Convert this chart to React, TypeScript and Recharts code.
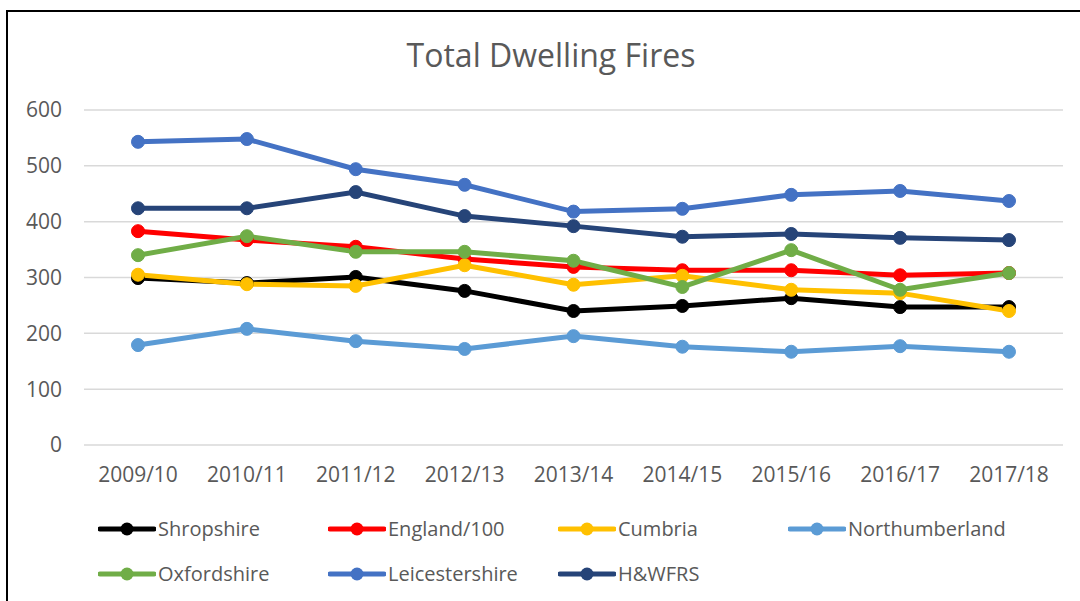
import React from 'react';
import { CartesianGrid, Line, LineChart, XAxis, YAxis } from 'recharts';

const years = ['2009/10', '2010/11', '2011/12', '2012/13', '2013/14', '2014/15', '2015/16', '2016/17', '2017/18'];

const shropshire = [299, 290, 301, 276, 240, 249, 263, 247, 247];
const england = [383, 367, 355, 333, 319, 313, 313, 304, 308];
const cumbria = [305, 288, 285, 322, 287, 303, 278, 272, 240];
const northumberland = [179, 208, 186, 172, 195, 176, 167, 177, 167];
const oxfordshire = [340, 374, 346, 346, 330, 283, 349, 278, 308];
const leicestershire = [543, 548, 494, 466, 418, 423, 448, 455, 437];
const hwfrs = [424, 424, 453, 410, 392, 373, 378, 371, 367];

const yTicks = [0, 100, 200, 300, 400, 500, 600];

const series = [
  { key: 'shropshire', name: 'Shropshire', color: '#000000', values: shropshire },
  { key: 'england', name: 'England/100', color: '#FF0000', values: england },
  { key: 'cumbria', name: 'Cumbria', color: '#FFC000', values: cumbria },
  { key: 'northumberland', name: 'Northumberland', color: '#5B9BD5', values: northumberland },
  { key: 'oxfordshire', name: 'Oxfordshire', color: '#70AD47', values: oxfordshire },
  { key: 'leicestershire', name: 'Leicestershire', color: '#4472C4', values: leicestershire },
  { key: 'hwfrs', name: 'H&WFRS', color: '#264478', values: hwfrs },
];

const data = years.map((year, i) => {
  const row: Record<string, string | number> = { year };
  series.forEach((s) => {
    row[s.key] = s.values[i];
  });
  return row;
});

const font = '"Open Sans", "Noto Sans", sans-serif';
const grey = '#595959';

function LegendItem({ name, color }: { name: string; color: string }) {
  return (
    <div style={{ display: 'flex', alignItems: 'center', width: 230 }}>
      <svg width={58} height={16} style={{ marginRight: 2 }}>
        <line x1={2} y1={8} x2={56} y2={8} stroke={color} strokeWidth={5} strokeLinecap="round" />
        <circle cx={29} cy={8} r={6.5} fill={color} />
      </svg>
      <span style={{ fontSize: 20, color: grey, fontFamily: font }}>{name}</span>
    </div>
  );
}

export default function App() {
  return (
    <div style={{ position: 'fixed', left: 0, top: 0, width: 1080, height: 601, background: '#fff', overflow: 'hidden' }}>
      <div
        style={{
          position: 'absolute',
          left: 6,
          top: 10,
          width: 1100,
          height: 620,
          borderTop: '2px solid #000',
          borderLeft: '2px solid #000',
        }}
      />
      <div
        style={{
          position: 'absolute',
          top: 33,
          left: 0,
          width: 1102,
          textAlign: 'center',
          fontFamily: font,
          fontSize: 32,
          color: grey,
          lineHeight: '44px',
        }}
      >
        Total Dwelling Fires
      </div>
      <div style={{ position: 'absolute', left: 0, top: 0 }}>
        <LineChart width={1080} height={601} data={data} margin={{ top: 110, right: 17, left: 0, bottom: 126 }}>
          <CartesianGrid vertical={false} stroke="#D9D9D9" strokeWidth={1.5} />
          <XAxis
            dataKey="year"
            axisLine={false}
            tickLine={false}
            tickSize={0}
            tickMargin={22}
            height={30}
            interval={0}
            padding={{ left: 54, right: 54 }}
            tick={{ fontSize: 21, fill: grey, fontFamily: font }}
          />
          <YAxis
            domain={[0, 600]}
            ticks={yTicks}
            axisLine={false}
            tickLine={false}
            tickSize={0}
            tickMargin={22}
            width={84}
            tick={{ fontSize: 21, fill: grey, fontFamily: font }}
          />
          {series.map((s) => (
            <Line
              key={s.key}
              dataKey={s.key}
              name={s.name}
              type="linear"
              stroke={s.color}
              strokeWidth={5}
              dot={{ r: 6.5, fill: s.color, stroke: s.color, strokeWidth: 1 }}
              isAnimationActive={false}
            />
          ))}
        </LineChart>
      </div>
      <div style={{ position: 'absolute', left: 98, top: 515, display: 'flex', flexWrap: 'wrap', width: 960, rowGap: 18 }}>
        {series.map((s) => (
          <LegendItem key={s.key} name={s.name} color={s.color} />
        ))}
      </div>
    </div>
  );
}
